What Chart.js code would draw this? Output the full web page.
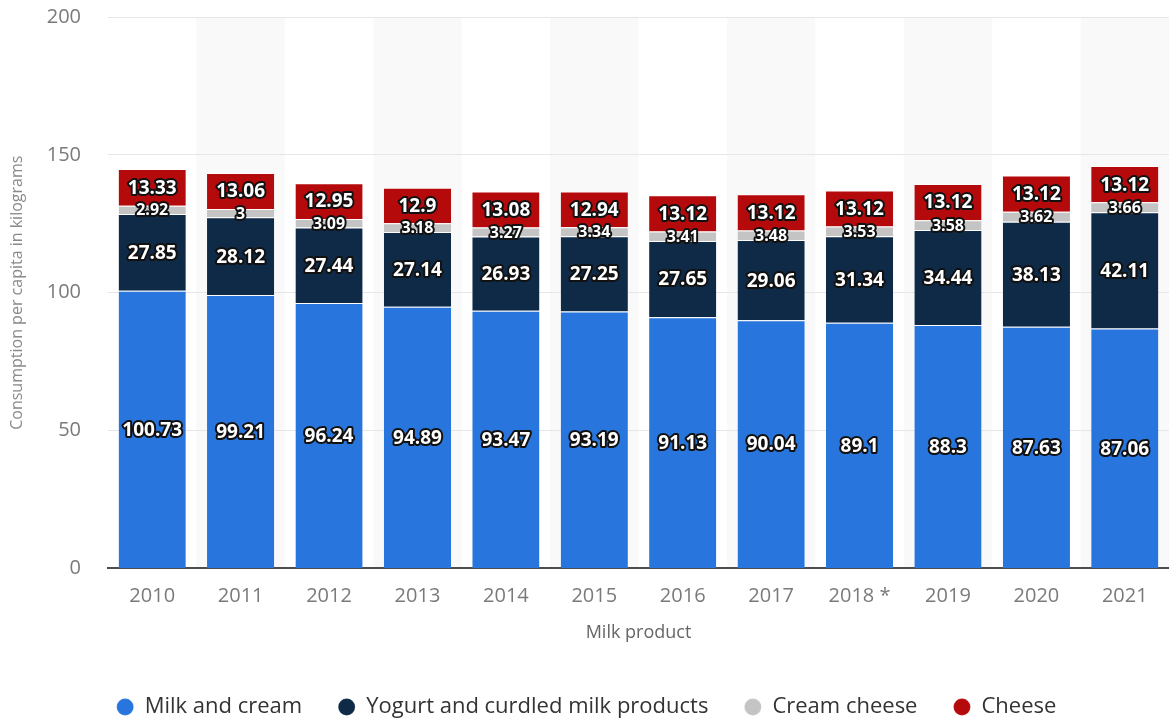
<!DOCTYPE html>
<html lang="en">
<head>
<meta charset="UTF-8">
<title>Milk product consumption per capita</title>
<script src="https://cdn.jsdelivr.net/npm/chart.js"></script>
<style>
    html, body { margin: 0; padding: 0; background: #ffffff; }
    #chart-container { width: 1169px; height: 720px; }
</style>
</head>
<body>
<div id="chart-container"><canvas id="milk"></canvas></div>
<script>
    const years = ['2010', '2011', '2012', '2013', '2014', '2015', '2016', '2017', '2018 *', '2019', '2020', '2021'];
    const milkAndCream = [100.73, 99.21, 96.24, 94.89, 93.47, 93.19, 91.13, 90.04, 89.1, 88.3, 87.63, 87.06];
    const yogurt = [27.85, 28.12, 27.44, 27.14, 26.93, 27.25, 27.65, 29.06, 31.34, 34.44, 38.13, 42.11];
    const creamCheese = [2.92, 3, 3.09, 3.18, 3.27, 3.34, 3.41, 3.48, 3.53, 3.58, 3.62, 3.66];
    const cheese = [13.33, 13.06, 12.95, 12.9, 13.08, 12.94, 13.12, 13.12, 13.12, 13.12, 13.12, 13.12];
    const yMax = 200;
    const yStep = 50;

    const FONT = '"Open Sans", "Noto Sans", Arial, sans-serif';

    // faint bands behind every second category
    const columnBands = {
        id: 'columnBands',
        beforeDraw(chart) {
            const { ctx, chartArea, scales } = chart;
            const x = scales.x;
            const pitch = x.width / years.length;
            ctx.save();
            ctx.fillStyle = '#f9f9f9';
            years.forEach((_, i) => {
                if (i % 2 === 1) {
                    const cx = x.getPixelForValue(i);
                    ctx.fillRect(cx - pitch / 2, chartArea.top, pitch, chartArea.bottom - chartArea.top);
                }
            });
            ctx.restore();
        }
    };

    // outlined value labels centred in each segment
    const segmentLabels = {
        id: 'segmentLabels',
        afterDatasetsDraw(chart) {
            const { ctx } = chart;
            ctx.save();
            ctx.textAlign = 'center';
            ctx.textBaseline = 'middle';
            ctx.lineJoin = 'round';
            chart.data.datasets.forEach((ds, di) => {
                const meta = chart.getDatasetMeta(di);
                if (meta.hidden) return;
                const size = di === 2 ? 16 : 19;
                ctx.font = `bold ${size}px ${FONT}`;
                meta.data.forEach((bar, i) => {
                    const { x, y, base } = bar.getProps(['x', 'y', 'base'], true);
                    const cy = (y + base) / 2 + 1;
                    const text = String(ds.data[i]);
                    ctx.lineWidth = 4;
                    ctx.strokeStyle = '#111111';
                    ctx.strokeText(text, x, cy);
                    ctx.fillStyle = '#ffffff';
                    ctx.fillText(text, x, cy);
                });
            });
            ctx.restore();
        }
    };

    const segmentBorder = { top: 1, left: 0, right: 0, bottom: 0 };

    new Chart(document.getElementById('milk'), {
        type: 'bar',
        data: {
            labels: years,
            datasets: [
                { label: 'Milk and cream', data: milkAndCream, backgroundColor: '#2876dd' },
                { label: 'Yogurt and curdled milk products', data: yogurt, backgroundColor: '#0f2a47' },
                { label: 'Cream cheese', data: creamCheese, backgroundColor: '#c4c4c4' },
                { label: 'Cheese', data: cheese, backgroundColor: '#b50a0c' }
            ].map(ds => Object.assign(ds, {
                borderWidth: segmentBorder,
                borderColor: 'rgba(255,255,255,0.7)',
                borderSkipped: 'start',
                barPercentage: 0.76,
                categoryPercentage: 1
            }))
        },
        options: {
            responsive: true,
            maintainAspectRatio: false,
            animation: false,
            layout: { padding: { top: 0, right: -4, bottom: -8, left: 0 } },
            scales: {
                x: {
                    stacked: true,
                    grid: { display: false },
                    border: { display: true, color: '#4d4d4d', width: 2 },
                    ticks: { color: '#7a7a7a', font: { family: FONT, size: 20 }, padding: 8 },
                    title: {
                        display: true,
                        text: 'Milk product',
                        color: '#666666',
                        font: { family: FONT, size: 18 },
                        padding: { top: 6, bottom: 16 }
                    }
                },
                y: {
                    stacked: true,
                    min: 0,
                    max: yMax,
                    afterFit(scale) { scale.width = 108; },
                    ticks: { stepSize: yStep, color: '#7a7a7a', font: { family: FONT, size: 20 }, padding: 5 },
                    grid: { color: '#e6e6e6', drawTicks: true, tickLength: 22, tickColor: 'rgba(0,0,0,0)', lineWidth: 1 },
                    border: { display: false },
                    title: {
                        display: true,
                        text: 'Consumption per capita in kilograms',
                        color: '#8a8a8a',
                        font: { family: FONT, size: 16 },
                        padding: { top: 8, bottom: 0 }
                    }
                }
            },
            plugins: {
                legend: {
                    position: 'bottom',
                    labels: {
                        usePointStyle: true,
                        pointStyle: 'circle',
                        boxWidth: 17,
                        boxHeight: 12,
                        padding: 36,
                        color: '#333333',
                        font: { family: FONT, size: 22 }
                    }
                },
                tooltip: { enabled: false },
                title: { display: false }
            }
        },
        plugins: [columnBands, segmentLabels]
    });
</script>
</body>
</html>
